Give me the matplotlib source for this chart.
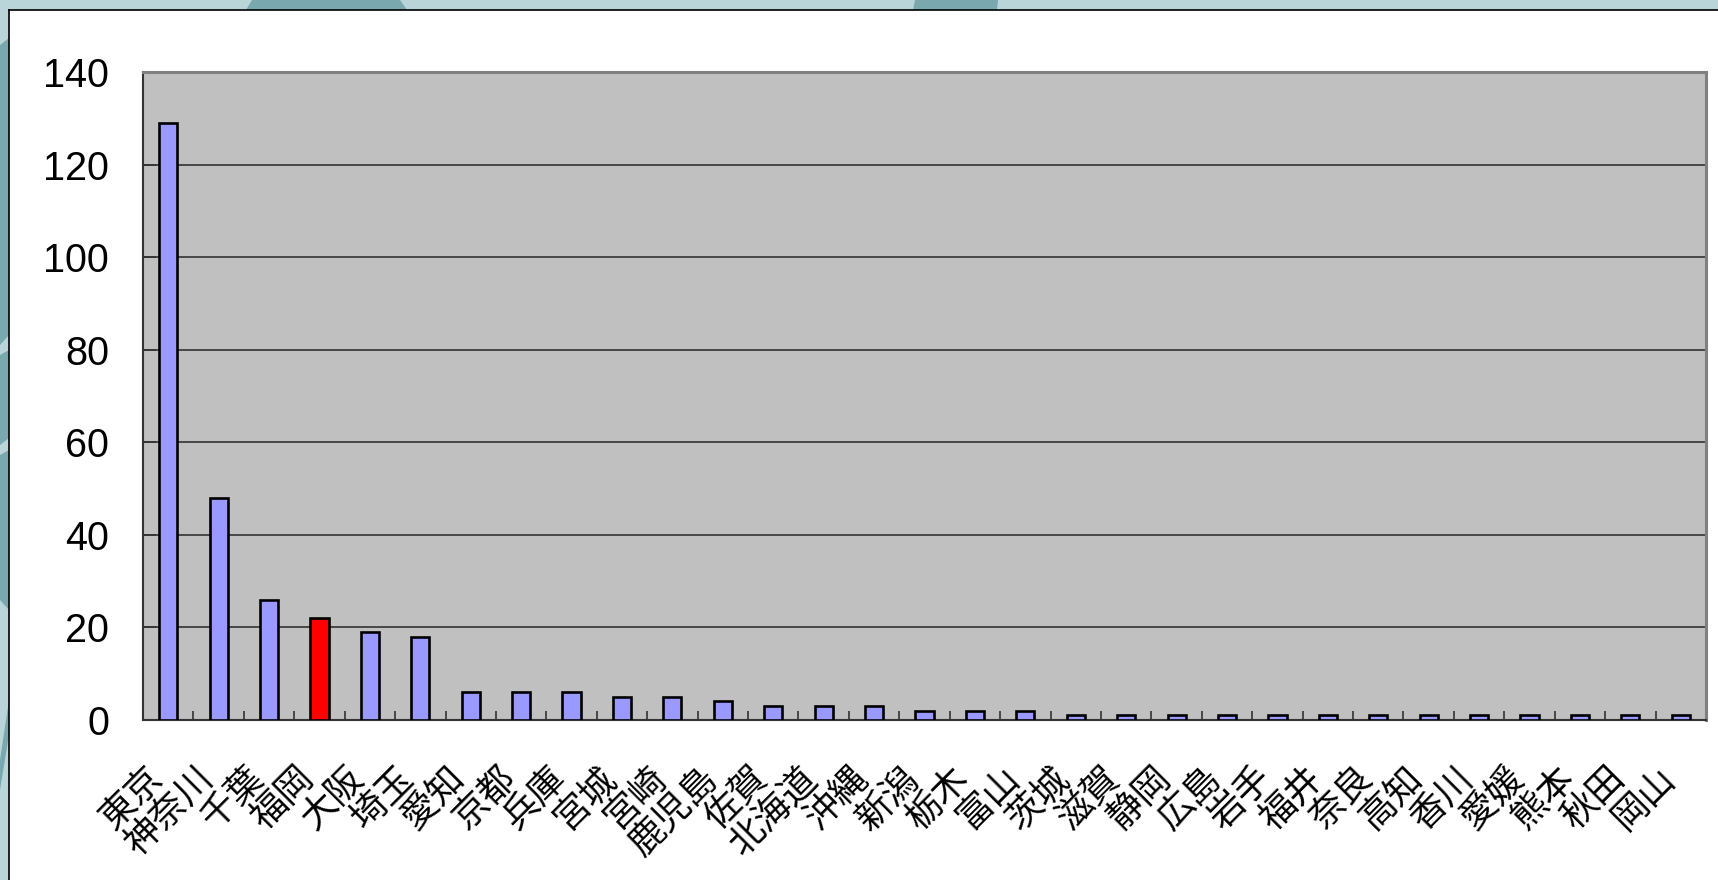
import numpy as np
import matplotlib.pyplot as plt
from matplotlib.patches import Rectangle, Polygon
from matplotlib.lines import Line2D
from matplotlib.transforms import ScaledTranslation

# data
prefectures = ['東京', '神奈川', '千葉', '福岡', '大阪', '埼玉', '愛知', '京都', '兵庫', '宮城',
               '宮崎', '鹿児島', '佐賀', '北海道', '沖縄', '新潟', '栃木', '富山', '茨城', '滋賀',
               '静岡', '広島', '岩手', '福井', '奈良', '高知', '香川', '愛媛', '熊本', '秋田', '岡山']
counts = [129, 48, 26, 22, 19, 18, 6, 6, 6, 5,
          5, 4, 3, 3, 3, 2, 2, 2, 1, 1,
          1, 1, 1, 1, 1, 1, 1, 1, 1, 1, 1]
highlight = '福岡'
y_ticks = [0, 20, 40, 60, 80, 100, 120, 140]

W, H = 1718, 880


def px(x, y):
    """pixel (top-left origin) -> figure fraction"""
    return (x / W, 1 - y / H)


fig = plt.figure(figsize=(W / 100, H / 100), dpi=100)
fig.patch.set_facecolor('#b9d5d9')

# decorative darker teal shapes peeking out around the white panel
shapes = [
    [(252, 0), (400, 0), (407, 10), (246, 10)],
    [(915, 0), (998, 0), (997, 10), (913, 10)],
    [(0, 45), (9, 38), (9, 335), (0, 345)],
    [(0, 355), (9, 350), (9, 438), (0, 445)],
    [(0, 455), (9, 450), (9, 610), (0, 600)],
    [(0, 760), (9, 700), (9, 735), (0, 790)],
]
for s in shapes:
    fig.add_artist(Polygon([px(*p) for p in s], closed=True, transform=fig.transFigure,
                           facecolor='#79a9ae', edgecolor='none', zorder=-2))

# white chart panel with a thin black top/left edge
x0, y0 = px(9, 880)
fig.add_artist(Rectangle((x0, y0), 1 - x0, (880 - 10) / H, transform=fig.transFigure,
                         facecolor='white', edgecolor='none', zorder=-1))
fig.add_artist(Line2D([px(9, 10)[0], 1], [px(9, 10)[1]] * 2, transform=fig.transFigure,
                      color='black', linewidth=1.2, zorder=-0.5))
fig.add_artist(Line2D([px(9, 10)[0]] * 2, [px(9, 10)[1], 0], transform=fig.transFigure,
                      color='black', linewidth=1.2, zorder=-0.5))

left, top = px(143, 72)
right, bottom = px(1706, 720)
ax = fig.add_axes([left, bottom, right - left, top - bottom])
ax.set_facecolor('#c0c0c0')

x = np.arange(len(prefectures))
colors = ['#ff0000' if p == highlight else '#9999ff' for p in prefectures]
ax.bar(x, counts, width=0.36, color=colors, edgecolor='black', linewidth=1.9, zorder=3)

ax.set_xlim(-0.5, len(x) - 0.5)
ax.set_ylim(0, 140)
ax.set_yticks(y_ticks)
ax.yaxis.grid(True, color='#333333', linewidth=1.2)
ax.set_axisbelow(True)
ax.tick_params(axis='y', direction='in', length=9, width=1.2, color='#333333',
               labelsize=28.5, pad=24.5)
for lbl in ax.get_yticklabels():
    lbl.set_fontfamily('Liberation Sans')

ax.set_xticks(x)
ax.set_xticklabels(prefectures, rotation=45, ha='right', va='top', rotation_mode='anchor',
                   fontsize=26, family=['Noto Sans CJK JP', 'DejaVu Sans'])
ax.tick_params(axis='x', which='major', length=0, pad=29)
ax.set_xticks(x[:-1] + 0.5, minor=True)
ax.tick_params(axis='x', which='minor', direction='in', length=6.5, width=1.2, color='#333333')
shift = ScaledTranslation(-24 / 100, 0, fig.dpi_scale_trans)
for lbl in ax.get_xticklabels():
    lbl.set_transform(lbl.get_transform() + shift)

for side in ['top', 'right']:
    ax.spines[side].set_color('#808080')
    ax.spines[side].set_linewidth(2.2)
for side in ['left', 'bottom']:
    ax.spines[side].set_color('#333333')
    ax.spines[side].set_linewidth(1.5)

fig.savefig('out.png', dpi=100, facecolor=fig.get_facecolor())
